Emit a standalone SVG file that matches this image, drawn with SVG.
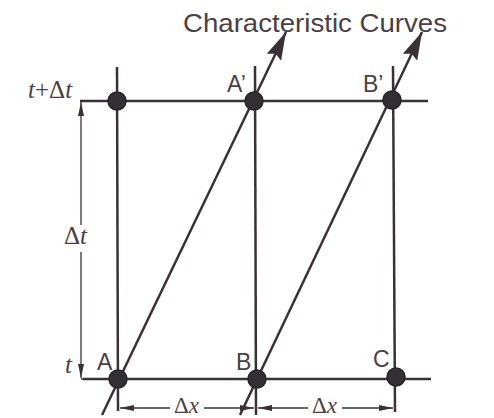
<svg xmlns="http://www.w3.org/2000/svg" width="494" height="418" viewBox="0 0 494 418">
<defs>
<marker id="big" viewBox="0 0 28 16" refX="28" refY="8" markerWidth="28" markerHeight="16" markerUnits="userSpaceOnUse" orient="auto">
<path d="M0,0 L28,8 L0,16 L4,8 Z" fill="#3a3036"/>
</marker>
<marker id="small" viewBox="0 0 14 6" refX="14" refY="3" markerWidth="14" markerHeight="6" markerUnits="userSpaceOnUse" orient="auto">
<path d="M0,0 L14,3 L0,6 Z" fill="#3a3036"/>
</marker>
<style>
.ln{stroke:#3a3036;stroke-width:2.5;fill:none}
.dim{stroke:#3a3036;stroke-width:1.3;fill:none}
.nd{fill:#333033;stroke:#2a2428;stroke-width:1.5}
.lbl{font-family:"Liberation Sans",Arial,sans-serif;font-size:23px;fill:#4a4046}
.ttl{font-family:"Liberation Sans",Arial,sans-serif;font-size:26px;fill:#4a4046}
.sym{font-family:"Liberation Serif","Times New Roman",serif;font-size:25px;fill:#4a4046}
.sx{font-family:"Liberation Serif","Times New Roman",serif;font-size:23px;fill:#4a4046}
.it{font-style:italic}
</style>
</defs>
<rect width="494" height="418" fill="#ffffff"/>
<g id="connectors">
<line class="ln" x1="80" y1="101" x2="428" y2="101"/>
<line class="ln" x1="83" y1="379" x2="431" y2="379"/>
<line class="ln" x1="117" y1="67" x2="118" y2="411"/>
<line class="ln" x1="255" y1="66" x2="256" y2="415"/>
<line class="ln" x1="393" y1="66" x2="395" y2="412"/>
<line class="ln" x1="102" y1="415" x2="286" y2="32" marker-end="url(#big)"/>
<line class="ln" x1="240" y1="415" x2="422" y2="32" marker-end="url(#big)"/>
<line class="dim" x1="81" y1="225" x2="81" y2="102" marker-end="url(#small)"/>
<line class="dim" x1="81" y1="252" x2="81" y2="378" marker-end="url(#small)"/>
<line class="dim" x1="81" y1="101" x2="117" y2="101"/>
<line class="dim" x1="81" y1="379" x2="117" y2="379"/>
<line class="dim" x1="170" y1="408" x2="120" y2="408" marker-end="url(#small)"/>
<line class="dim" x1="204" y1="408" x2="254" y2="408" marker-end="url(#small)"/>
<line class="dim" x1="308" y1="408" x2="258" y2="408" marker-end="url(#small)"/>
<line class="dim" x1="342" y1="408" x2="393" y2="408" marker-end="url(#small)"/>
</g>
<g id="node-top-left"><circle class="nd" cx="117" cy="101" r="9"/></g>
<g id="node-A-prime"><circle class="nd" cx="254" cy="101" r="9"/><text class="lbl" x="227" y="92">A’</text></g>
<g id="node-B-prime"><circle class="nd" cx="392" cy="100" r="9"/><text class="lbl" x="363" y="92">B’</text></g>
<g id="node-A"><circle class="nd" cx="118" cy="379" r="9"/><text class="lbl" x="97" y="370">A</text></g>
<g id="node-B"><circle class="nd" cx="257" cy="379" r="9"/><text class="lbl" x="236" y="370">B</text></g>
<g id="node-C"><circle class="nd" cx="396" cy="377" r="9"/><text class="lbl" x="373" y="367">C</text></g>
<g id="labels">
<text class="ttl" x="183" y="32" textLength="264" lengthAdjust="spacingAndGlyphs">Characteristic Curves</text>
<text class="sym" x="28" y="98"><tspan class="it">t</tspan>+Δ<tspan class="it">t</tspan></text>
<text class="sym" x="64" y="244">Δ<tspan class="it">t</tspan></text>
<text class="sym" x="65" y="373"><tspan class="it">t</tspan></text>
<text class="sx" x="174" y="413">Δ<tspan class="it">x</tspan></text>
<text class="sx" x="312" y="413">Δ<tspan class="it">x</tspan></text>
</g>
</svg>
